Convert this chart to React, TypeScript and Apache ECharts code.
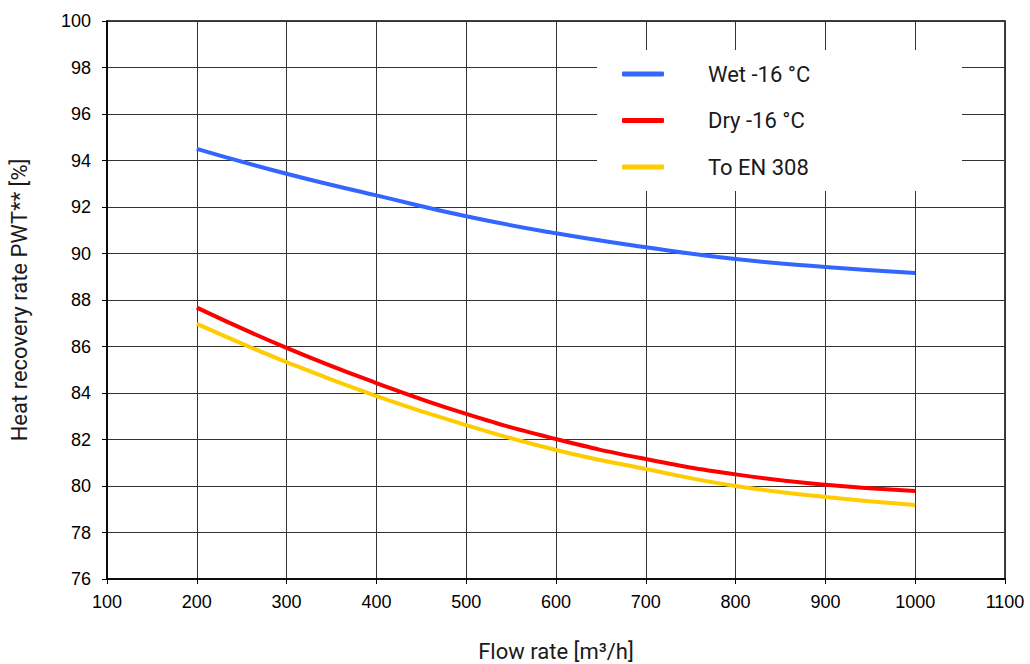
import React, { useEffect, useRef } from "react";
import * as echarts from "echarts";

const flowRates = [200, 300, 400, 500, 600, 700, 800, 900, 1000];
const wet = [94.5, 93.43, 92.5, 91.6, 90.87, 90.27, 89.76, 89.42, 89.16];
const dry = [87.67, 85.94, 84.43, 83.1, 82.02, 81.16, 80.5, 80.05, 79.78];
const en308 = [86.97, 85.33, 83.87, 82.62, 81.55, 80.73, 80.0, 79.53, 79.18];
const seriesNames = ["Wet -16 °C", "Dry -16 °C", "To EN 308"];
const seriesColors = ["#3366ff", "#ff0000", "#ffcc00"];

const pair = (ys: number[]) => flowRates.map((x, i) => [x, ys[i]]);

export default function App() {
  const ref = useRef<HTMLDivElement>(null);
  useEffect(() => {
    const chart = echarts.init(ref.current!, null, { renderer: "svg" });
    const nameFont = "Roboto, 'Noto Sans', sans-serif";
    const tickFont = "'Liberation Sans', Arial, sans-serif";
    chart.setOption({
      animation: false,
      backgroundColor: "#ffffff",
      grid: {
        left: 107,
        right: 25,
        top: 21,
        bottom: 85,
        outerBoundsMode: "none",
        containLabel: false,
        show: true,
        borderColor: "#000",
        borderWidth: 1.5,
      },
      graphic: [
        {
          type: "rect",
          left: 597,
          top: 50,
          z: 5,
          shape: { width: 365, height: 141 },
          style: { fill: "#ffffff" },
        },
      ],
      legend: {
        orient: "vertical",
        left: 622,
        top: 63,
        padding: 0,
        z: 10,
        itemWidth: 42,
        itemHeight: 5,
        itemGap: 24.5,
        icon: "roundRect",
        data: seriesNames.map((n) => ({ name: n })),
        textStyle: {
          fontFamily: nameFont,
          fontSize: 22,
          lineHeight: 22,
          color: "#1a1a1a",
          padding: [0, 0, 0, 39],
        },
      },
      xAxis: {
        type: "value",
        min: 100,
        max: 1100,
        interval: 100,
        name: "Flow rate [m³/h]",
        nameLocation: "middle",
        nameGap: 61,
        nameTextStyle: { fontFamily: nameFont, fontSize: 22, color: "#1a1a1a" },
        axisLine: { show: true, lineStyle: { color: "#000", width: 1.5 } },
        axisTick: { show: true, length: 5, lineStyle: { color: "#000" } },
        axisLabel: {
          fontFamily: tickFont,
          fontSize: 18,
          color: "#000",
          margin: 14,
          formatter: (v: number) => String(v),
        },
        splitLine: { show: true, lineStyle: { color: "#333", width: 1 } },
      },
      yAxis: {
        type: "value",
        min: 76,
        max: 100,
        interval: 2,
        name: "Heat recovery rate PWT** [%]",
        nameLocation: "middle",
        nameGap: 77,
        nameTextStyle: { fontFamily: nameFont, fontSize: 22, color: "#1a1a1a" },
        axisLine: { show: true, lineStyle: { color: "#000", width: 1.5 } },
        axisTick: { show: true, length: 5, lineStyle: { color: "#000" } },
        axisLabel: {
          fontFamily: tickFont,
          fontSize: 18,
          color: "#000",
          margin: 16,
          formatter: (v: number) => String(v),
        },
        splitLine: { show: true, lineStyle: { color: "#333", width: 1 } },
      },
      series: [wet, dry, en308].map((ys, i) => ({
        name: seriesNames[i],
        type: "line",
        smooth: true,
        showSymbol: false,
        symbol: "none",
        data: pair(ys),
        z: 3,
        itemStyle: { color: seriesColors[i] },
        lineStyle: { color: seriesColors[i], width: 4 },
      })),
    });
    return () => chart.dispose();
  }, []);
  return <div ref={ref} style={{ width: 1030, height: 664, position: "absolute", left: 0, top: 0 }} />;
}
